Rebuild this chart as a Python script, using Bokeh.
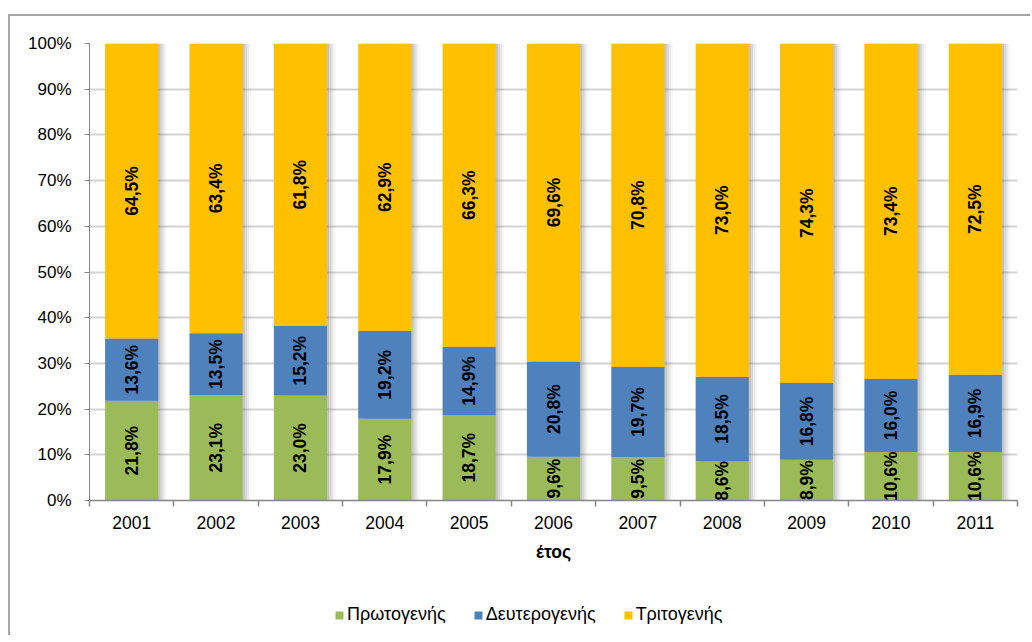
import numpy as np
from bokeh.plotting import figure
from bokeh.layouts import column
from bokeh.models import (ColumnDataSource, Range1d, FixedTicker, NumeralTickFormatter,
                          Legend, LegendItem)
from bokeh.embed import file_html
from bokeh.resources import INLINE
from bokeh.core.properties import value

years = ["2001", "2002", "2003", "2004", "2005", "2006", "2007", "2008", "2009", "2010", "2011"]
primary = [21.8, 23.1, 23.0, 17.9, 18.7, 9.6, 9.5, 8.6, 8.9, 10.6, 10.6]
secondary = [13.6, 13.5, 15.2, 19.2, 14.9, 20.8, 19.7, 18.5, 16.8, 16.0, 16.9]
tertiary = [64.5, 63.4, 61.8, 62.9, 66.3, 69.6, 70.8, 73.0, 74.3, 73.4, 72.5]
series_names = ["Πρωτογενής", "Δευτερογενής", "Τριτογενής"]
colors = ["#9BBB59", "#4F81BD", "#FFC000"]
x_title = "έτος"

n = len(years)
xs = np.arange(n) + 0.5
vals = np.array([primary, secondary, tertiary], dtype=float)
tot = vals.sum(axis=0)
frac = vals / tot
cum = np.cumsum(frac, axis=0)
bottoms = cum - frac

src = ColumnDataSource(dict(x=xs, prim=frac[0], sec=frac[1], ter=frac[2], total=cum[-1]))

FONT = "Liberation Sans"
W = 1020

p = figure(width=W, height=579, output_backend="svg", toolbar_location=None,
           x_range=Range1d(0, n), y_range=Range1d(0, 1),
           min_border_left=79, min_border_right=W - 1007, min_border_top=27, min_border_bottom=95)
p.outline_line_color = None
p.background_fill_color = "white"
p.border_fill_color = "white"

# grid
p.xgrid.visible = False
p.ygrid.grid_line_color = "#d3d3d3"
p.ygrid.grid_line_width = 2
p.yaxis.ticker = FixedTicker(ticks=[i / 10 for i in range(11)])
p.yaxis.formatter = NumeralTickFormatter(format="0%")

# y axis
ya = p.yaxis[0]
ya.axis_line_color = "#868686"
ya.major_tick_line_color = "#868686"
ya.major_tick_out = 5
ya.major_tick_in = 0
ya.minor_tick_line_color = None
ya.major_label_text_font = FONT
ya.major_label_text_font_size = "17px"
ya.major_label_text_color = "black"
ya.major_label_standoff = 13

# x axis: labels at centers, tick marks between categories
xa = p.xaxis[0]
xa.ticker = FixedTicker(ticks=list(xs), minor_ticks=list(range(n + 1)))
xa.major_label_overrides = {float(x): y for x, y in zip(xs, years)}
xa.axis_line_color = "#868686"
xa.axis_line_width = 1.5
xa.major_tick_line_color = None
xa.major_tick_out = 0
xa.major_tick_in = 0
xa.minor_tick_line_color = "#868686"
xa.minor_tick_out = 6
xa.minor_tick_in = 0
xa.minor_tick_line_width = 1.5
xa.major_label_text_font = FONT
xa.major_label_text_font_size = "17.5px"
xa.major_label_text_color = "black"
xa.major_label_standoff = 9
xa.axis_label = x_title
xa.axis_label_text_font = FONT
xa.axis_label_text_font_style = "bold"
xa.axis_label_text_font_size = "17.5px"
xa.axis_label_text_color = "black"
xa.axis_label_standoff = 10

# soft shadows
for off, a in [(0.1, 0.06), (0.075, 0.1), (0.05, 0.14), (0.025, 0.18)]:
    p.vbar(x=xs + off, top=cum[-1], bottom=-0.004, width=0.63, fill_color="#707070",
           fill_alpha=a, line_color=None)

p.vbar_stack(["prim", "sec", "ter"], x="x", width=0.63, color=colors, line_color=None, source=src)

# labels
lx, ly, lt = [], [], []
for s in range(3):
    for i in range(n):
        lx.append(xs[i])
        ly.append(bottoms[s, i] + frac[s, i] / 2)
        lt.append(f"{vals[s, i]:.1f}".replace(".", ",") + "%")
p.text(x=lx, y=ly, text=lt, angle=np.pi / 2, text_align="center", text_baseline="middle",
       text_font=value(FONT), text_font_style="bold", text_font_size="17.5px", text_color="black")

# legend strip
lf = figure(width=W, height=40, output_backend="svg", toolbar_location=None,
            x_range=Range1d(0, 1), y_range=Range1d(0, 1),
            x_axis_location=None, y_axis_location=None,
            min_border_left=0, min_border_right=0, min_border_top=0, min_border_bottom=0)
lf.grid.visible = False
lf.outline_line_color = None
lf.background_fill_color = "white"
lf.border_fill_color = "white"
# zero-height proxies so the legend has a glyph for each series
lrs = [lf.vbar(x=[0.5], top=[0], bottom=[0], width=0.01, fill_color=c, line_color=None)
       for c in colors]
legend = Legend(items=[LegendItem(label=nm, renderers=[r]) for nm, r in zip(series_names, lrs)],
                orientation="horizontal", location=(245, 10),
                glyph_width=10, glyph_height=10, label_standoff=3, spacing=27,
                padding=0, margin=0, border_line_color=None, background_fill_alpha=0,
                label_text_font=FONT, label_text_font_size="18px", label_text_color="black")
lf.add_layout(legend, "center")

root = column(p, lf, spacing=0)
root.styles = {"margin-left": "8px", "margin-top": "14px",
               "border-left": "2px solid #a6a6a6", "border-top": "2px solid #a6a6a6"}

open("out.html", "w").write(file_html(root, INLINE))
